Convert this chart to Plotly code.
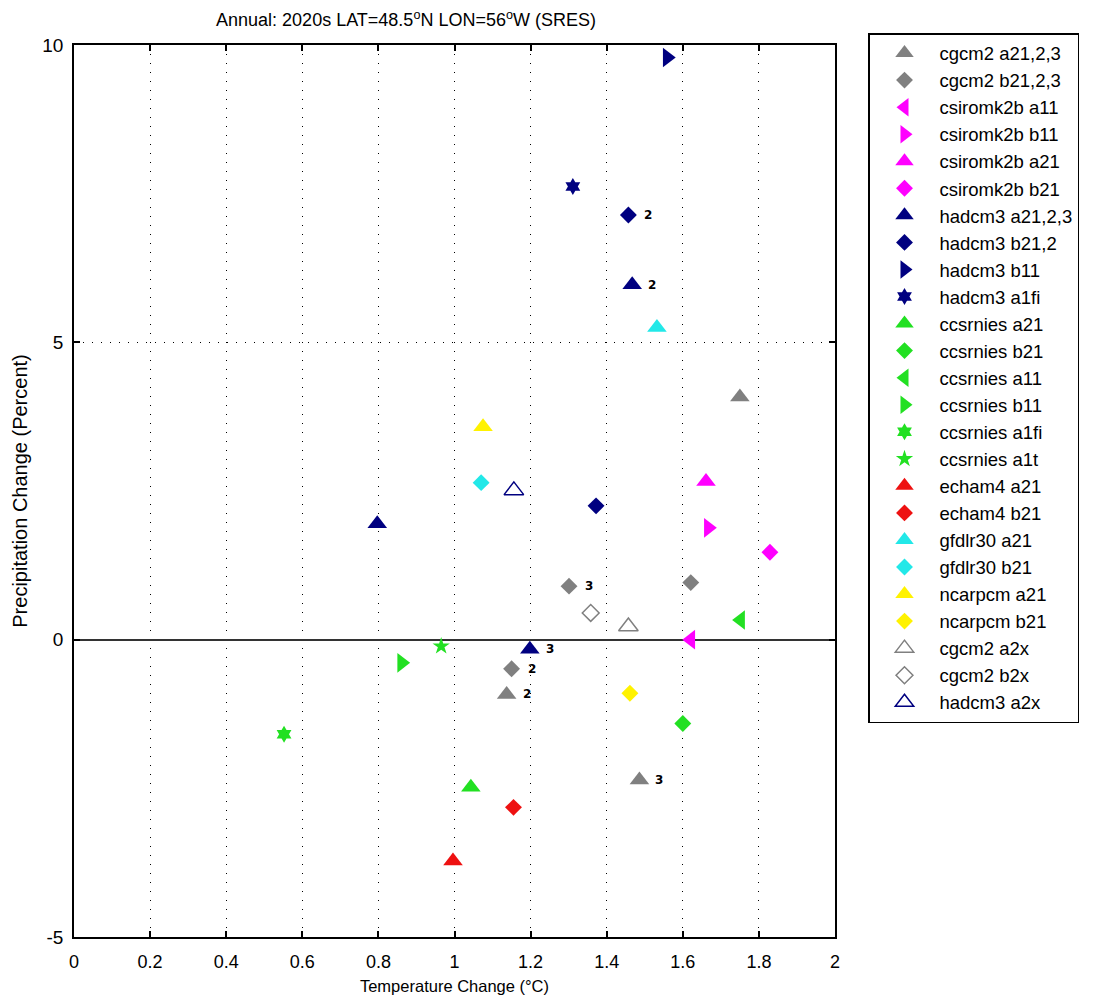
import plotly.graph_objects as go

# ---- data ----
series_names = [
    "cgcm2 a21,2,3", "cgcm2 b21,2,3", "csiromk2b a11", "csiromk2b b11",
    "csiromk2b a21", "csiromk2b b21", "hadcm3 a21,2,3", "hadcm3 b21,2",
    "hadcm3 b11", "hadcm3 a1fi", "ccsrnies a21", "ccsrnies b21",
    "ccsrnies a11", "ccsrnies b11", "ccsrnies a1fi", "ccsrnies a1t",
    "echam4 a21", "echam4 b21", "gfdlr30 a21", "gfdlr30 b21",
    "ncarpcm a21", "ncarpcm b21", "cgcm2 a2x", "cgcm2 b2x", "hadcm3 a2x",
]
temp_change = [
    [1.750, 1.137, 1.486],
    [1.621, 1.150, 1.301],
    [1.621],
    [1.667],
    [1.661],
    [1.829],
    [0.797, 1.467, 1.198],
    [1.372, 1.457],
    [1.559],
    [1.311],
    [1.043],
    [1.600],
    [1.752],
    [0.861],
    [0.552],
    [0.965],
    [0.996],
    [1.155],
    [1.532],
    [1.070],
    [1.075],
    [1.461],
    [1.457],
    [1.358],
    [1.156],
]
precip_change = [
    [4.08, -0.92, -2.36],
    [0.96, -0.49, 0.90],
    [0.00],
    [1.88],
    [2.66],
    [1.47],
    [1.95, 5.97, -0.16],
    [2.25, 7.14],
    [9.79],
    [7.62],
    [-2.48],
    [-1.41],
    [0.33],
    [-0.39],
    [-1.59],
    [-0.11],
    [-3.72],
    [-2.82],
    [5.25],
    [2.64],
    [3.58],
    [-0.90],
    [0.22],
    [0.45],
    [2.51],
]
run_labels = [
    ["", "2", "3"],
    ["", "2", "3"],
    [""], [""], [""], [""],
    ["", "2", "3"],
    ["", "2"],
    [""], [""], [""], [""], [""], [""], [""], [""], [""], [""], [""], [""],
    [""], [""], [""], [""], [""],
]
x_ticks = [0, 0.2, 0.4, 0.6, 0.8, 1, 1.2, 1.4, 1.6, 1.8, 2]
x_tick_labels = ["0", "0.2", "0.4", "0.6", "0.8", "1", "1.2", "1.4", "1.6", "1.8", "2"]
y_ticks = [-5, 0, 5, 10]
y_tick_labels = ["-5", "0", "5", "10"]

# ---- styles ----
GRAY, MAG, NAVY = "#808080", "#ff00ff", "#000080"
GREEN, RED, CYAN, YEL = "#22e022", "#ee1111", "#22e8e8", "#fff200"
symbols = [
    "triangle-up", "diamond", "triangle-left", "triangle-right",
    "triangle-up", "diamond", "triangle-up", "diamond",
    "triangle-right", "hexagram", "triangle-up", "diamond",
    "triangle-left", "triangle-right", "hexagram", "star",
    "triangle-up", "diamond", "triangle-up", "diamond",
    "triangle-up", "diamond", "triangle-up-open", "diamond-open", "triangle-up-open",
]
colors = [
    GRAY, GRAY, MAG, MAG, MAG, MAG, NAVY, NAVY, NAVY, NAVY,
    GREEN, GREEN, GREEN, GREEN, GREEN, GREEN, RED, RED, CYAN, CYAN,
    YEL, YEL, GRAY, GRAY, NAVY,
]

def msize(sym):
    if sym.startswith("triangle"):
        return 17
    if sym.startswith("diamond"):
        return 13
    return 13

fig = go.Figure()
for name, xs, ys, sym, col in zip(series_names, temp_change, precip_change, symbols, colors):
    is_open = sym.endswith("-open")
    fig.add_trace(go.Scatter(
        x=xs, y=ys, mode="markers", name=name,
        marker=dict(
            symbol=sym, size=msize(sym), color=col,
            line=dict(color=col, width=1.5 if is_open else 0),
        ),
    ))

annotations = []
for xs, ys, labs in zip(temp_change, precip_change, run_labels):
    for x, y, t in zip(xs, ys, labs):
        if t:
            annotations.append(dict(
                x=x, y=y, xref="x", yref="y", text=t, showarrow=False,
                xanchor="left", yanchor="middle", xshift=14,
                font=dict(family="DejaVu Sans", size=12, color="black", weight="bold"),
            ))

FONT = "Liberation Sans"
fig.update_layout(
    width=1112, height=1005, autosize=False,
    margin=dict(l=74, r=277, t=45, b=65),
    paper_bgcolor="white", plot_bgcolor="white",
    font=dict(family=FONT, color="black", size=16),
    title=dict(
        text="Annual: 2020s LAT=48.5<sup>o</sup>N LON=56<sup>o</sup>W (SRES)",
        x=406 / 1112, xanchor="center",
        y=1 - 20 / 1005, yanchor="middle", yref="container",
        font=dict(family=FONT, size=18, color="black"),
    ),
    xaxis=dict(
        range=[0, 2], tickmode="array", tickvals=x_ticks, ticktext=x_tick_labels,
        showline=True, linecolor="black", linewidth=1.5, mirror="ticks",
        ticks="inside", ticklen=6, tickcolor="black", tickwidth=1.5,
        showgrid=True, gridcolor="black", gridwidth=1, griddash="1px,8px",
        zeroline=False, tickfont=dict(size=18), ticklabelstandoff=8,
        title=dict(text="Temperature Change (°C)", font=dict(size=16.5), standoff=9),
    ),
    yaxis=dict(
        range=[-5, 10], tickmode="array", tickvals=y_ticks, ticktext=y_tick_labels,
        showline=True, linecolor="black", linewidth=1.5, mirror="ticks",
        ticks="inside", ticklen=6, tickcolor="black", tickwidth=1.5,
        showgrid=True, gridcolor="black", gridwidth=1, griddash="1px,8px",
        zeroline=True, zerolinecolor="#333333", zerolinewidth=2,
        tickfont=dict(size=19), ticklabelstandoff=5,
        title=dict(text="Precipitation Change (Percent)", font=dict(size=20), standoff=9),
    ),
    legend=dict(
        x=(868 - 74) / 761, y=1 + (45 - 33) / 895, xanchor="left", yanchor="top",
        bgcolor="white", bordercolor="black", borderwidth=1.5,
        font=dict(family=FONT, size=18.5, color="black"), itemwidth=60,
        maxheight=760,
    ),
    annotations=annotations,
)

fig.write_html("out.html")
